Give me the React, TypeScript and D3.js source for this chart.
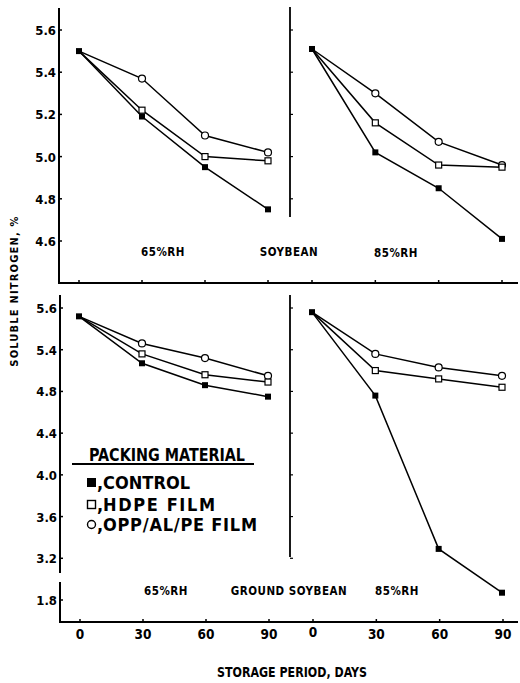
import React from "react";
import * as d3 from "d3";

const days = [0, 30, 60, 90];

// Soybean (top)
const soy65Control = [5.5, 5.19, 4.95, 4.75];
const soy65Hdpe = [5.5, 5.22, 5.0, 4.98];
const soy65Opp = [5.5, 5.37, 5.1, 5.02];
const soy85Control = [5.51, 5.02, 4.85, 4.61];
const soy85Hdpe = [5.51, 5.16, 4.96, 4.95];
const soy85Opp = [5.51, 5.3, 5.07, 4.96];

// Ground soybean (bottom)
const gr65Control = [5.52, 5.07, 4.86, 4.75];
const gr65Hdpe = [5.52, 5.16, 4.96, 4.89];
const gr65Opp = [5.52, 5.26, 5.12, 4.95];
const gr85Control = [5.56, 4.76, 3.29, 2.87];
const gr85Hdpe = [5.56, 5.0, 4.92, 4.84];
const gr85Opp = [5.56, 5.16, 5.03, 4.95];

const topTicks = [5.6, 5.4, 5.2, 5.0, 4.8, 4.6];
const topTickLabels = ["5.6", "5.4", "5.2", "5.0", "4.8", "4.6"];
const botTicks = [5.6, 5.2, 4.8, 4.4, 4.0, 3.6, 3.2, 2.8];
const botTickLabels = ["5.6", "5.4", "4.8", "4.4", "4.0", "3.6", "3.2", "1.8"];
const dayLabels = ["0", "30", "60", "90"];

const legendLabels = ["CONTROL", "HDPE FILM", "OPP/AL/PE FILM"];

const FONT = "'DejaVu Sans Condensed', 'Liberation Sans Narrow', sans-serif";

type Kind = "control" | "hdpe" | "opp";

function Marker({ x, y, kind }: { x: number; y: number; kind: Kind }) {
  if (kind === "control") return <rect x={x - 3} y={y - 3} width={6} height={6} fill="#000" />;
  if (kind === "hdpe")
    return <rect x={x - 3} y={y - 3} width={6} height={6} fill="#fff" stroke="#000" strokeWidth={1.2} />;
  return <circle cx={x} cy={y} r={3.5} fill="#fff" stroke="#000" strokeWidth={1.2} />;
}

function Series({ xs, ys, vals, kind }: { xs: d3.ScaleLinear<number, number>; ys: d3.ScaleLinear<number, number>; vals: number[]; kind: Kind }) {
  const line = d3
    .line<number>()
    .x((_, i) => xs(days[i]))
    .y((v) => ys(v));
  return (
    <g>
      <path d={line(vals) || ""} fill="none" stroke="#000" strokeWidth={1.5} />
      {vals.map((v, i) => (i === 0 && kind !== "control" ? null : <Marker key={i} x={xs(days[i])} y={ys(v)} kind={kind} />))}
    </g>
  );
}

export default function App() {
  const W = 520;
  const H = 683;
  const xL = d3.scaleLinear().domain([0, 90]).range([79, 268]);
  const xR = d3.scaleLinear().domain([0, 90]).range([312, 502]);
  const yT = d3.scaleLinear().domain([5.6, 4.6]).range([30, 241]);
  const yB = d3.scaleLinear().domain([5.6, 2.8]).range([308, 600]);

  const tickFont = { fontFamily: FONT, fontWeight: 700, fontSize: 13 } as const;
  const labFont = { fontFamily: FONT, fontWeight: 700, fontSize: 11.5, letterSpacing: 0.5 } as const;
  const legFont = { fontFamily: FONT, fontWeight: 700, fontSize: 18 } as const;

  return (
    <svg width={W} height={H} style={{ position: "absolute", left: 0, top: 0, background: "#fff" }}>
      <rect width={W} height={H} fill="#fff" />
      {/* Top panel axes */}
      <line x1={59} y1={8} x2={59} y2={284} stroke="#000" strokeWidth={2} />
      <line x1={58} y1={283} x2={518} y2={283} stroke="#000" strokeWidth={2} />
      <line x1={290} y1={7} x2={290} y2={217} stroke="#000" strokeWidth={1.8} />
      {topTicks.map((t, i) => (
        <g key={i}>
          <line x1={59} x2={62} y1={yT(t)} y2={yT(t)} stroke="#000" strokeWidth={1.5} />
          {yT(t) < 215 && <line x1={290} x2={293} y1={yT(t)} y2={yT(t)} stroke="#000" strokeWidth={1.2} />}
          <text x={56} y={yT(t) + 5} textAnchor="end" style={tickFont}>
            {topTickLabels[i]}
          </text>
        </g>
      ))}
      {days.map((d, i) => (
        <g key={i}>
          <line x1={xL(d)} x2={xL(d)} y1={283} y2={280} stroke="#000" strokeWidth={1.5} />
          <line x1={xR(d)} x2={xR(d)} y1={283} y2={280} stroke="#000" strokeWidth={1.5} />
        </g>
      ))}
      <Series xs={xL} ys={yT} vals={soy65Opp} kind="opp" />
      <Series xs={xL} ys={yT} vals={soy65Hdpe} kind="hdpe" />
      <Series xs={xL} ys={yT} vals={soy65Control} kind="control" />
      <Series xs={xR} ys={yT} vals={soy85Opp} kind="opp" />
      <Series xs={xR} ys={yT} vals={soy85Hdpe} kind="hdpe" />
      <Series xs={xR} ys={yT} vals={soy85Control} kind="control" />
      <text x={163} y={256} textAnchor="middle" style={labFont}>65%RH</text>
      <text x={289} y={256} textAnchor="middle" style={labFont}>SOYBEAN</text>
      <text x={396} y={257} textAnchor="middle" style={labFont}>85%RH</text>

      {/* Bottom panel axes */}
      <line x1={60} y1={295} x2={60} y2={573} stroke="#000" strokeWidth={2} />
      <line x1={60} y1={582} x2={60} y2={623} stroke="#000" strokeWidth={2} />
      <line x1={59} y1={622} x2={518} y2={622} stroke="#000" strokeWidth={2} />
      <line x1={290} y1={295} x2={290} y2={557} stroke="#000" strokeWidth={1.8} />
      {botTicks.map((t, i) => (
        <g key={i}>
          <line x1={60} x2={63} y1={yB(t)} y2={yB(t)} stroke="#000" strokeWidth={1.5} />
          {yB(t) < 560 && <line x1={290} x2={293} y1={yB(t)} y2={yB(t)} stroke="#000" strokeWidth={1.2} />}
          <text x={57} y={yB(t) + 5} textAnchor="end" style={tickFont}>
            {botTickLabels[i]}
          </text>
        </g>
      ))}
      {days.map((d, i) => (
        <g key={i}>
          <line x1={xL(d) + 1} x2={xL(d) + 1} y1={622} y2={619} stroke="#000" strokeWidth={1.5} />
          <line x1={xR(d) + 1} x2={xR(d) + 1} y1={622} y2={619} stroke="#000" strokeWidth={1.5} />
          <text x={xL(d) + 1} y={639} textAnchor="middle" style={{ ...tickFont, fontSize: 13.5 }}>
            {dayLabels[i]}
          </text>
          <text x={xR(d) + 1} y={i === 0 ? 637 : 639} textAnchor="middle" style={{ ...tickFont, fontSize: 13.5 }}>
            {dayLabels[i]}
          </text>
        </g>
      ))}
      <Series xs={xL} ys={yB} vals={gr65Opp} kind="opp" />
      <Series xs={xL} ys={yB} vals={gr65Hdpe} kind="hdpe" />
      <Series xs={xL} ys={yB} vals={gr65Control} kind="control" />
      <Series xs={xR} ys={yB} vals={gr85Opp} kind="opp" />
      <Series xs={xR} ys={yB} vals={gr85Hdpe} kind="hdpe" />
      <Series xs={xR} ys={yB} vals={gr85Control} kind="control" />
      <text x={166} y={595} textAnchor="middle" style={labFont}>65%RH</text>
      <text x={289} y={595} textAnchor="middle" style={labFont}>GROUND SOYBEAN</text>
      <text x={397} y={595} textAnchor="middle" style={labFont}>85%RH</text>

      {/* Legend */}
      <text x={89} y={461} textLength={156} lengthAdjust="spacingAndGlyphs" style={legFont}>PACKING MATERIAL</text>
      <line x1={72} x2={254} y1={464} y2={464} stroke="#000" strokeWidth={2} />
      {legendLabels.map((l, i) => {
        const cy = [482, 504, 524][i];
        const kind: Kind = (["control", "hdpe", "opp"] as Kind[])[i];
        const widths = [87, 112, 154];
        return (
          <g key={i}>
            {kind === "control" && <rect x={87} y={cy - 4} width={9} height={9} fill="#000" />}
            {kind === "hdpe" && <rect x={87.5} y={cy - 3.5} width={8} height={8} fill="#fff" stroke="#000" strokeWidth={1.4} />}
            {kind === "opp" && <circle cx={91.5} cy={cy + 0.5} r={4} fill="#fff" stroke="#000" strokeWidth={1.4} />}
            <text x={97} y={cy + 7} style={legFont}>,</text>
            <text x={103} y={cy + 7} textLength={widths[i]} lengthAdjust="spacing" style={legFont}>
              {l}
            </text>
          </g>
        );
      })}

      {/* Axis titles */}
      <text
        transform="translate(18,291) rotate(-90)"
        textAnchor="middle"
        style={{ fontFamily: FONT, fontWeight: 700, fontSize: 11, letterSpacing: 1.2 }}
      >
        SOLUBLE NITROGEN, %
      </text>
      <text x={217} y={677} textLength={150} lengthAdjust="spacingAndGlyphs" style={{ fontFamily: FONT, fontWeight: 700, fontSize: 14 }}>
        STORAGE PERIOD, DAYS
      </text>
    </svg>
  );
}
